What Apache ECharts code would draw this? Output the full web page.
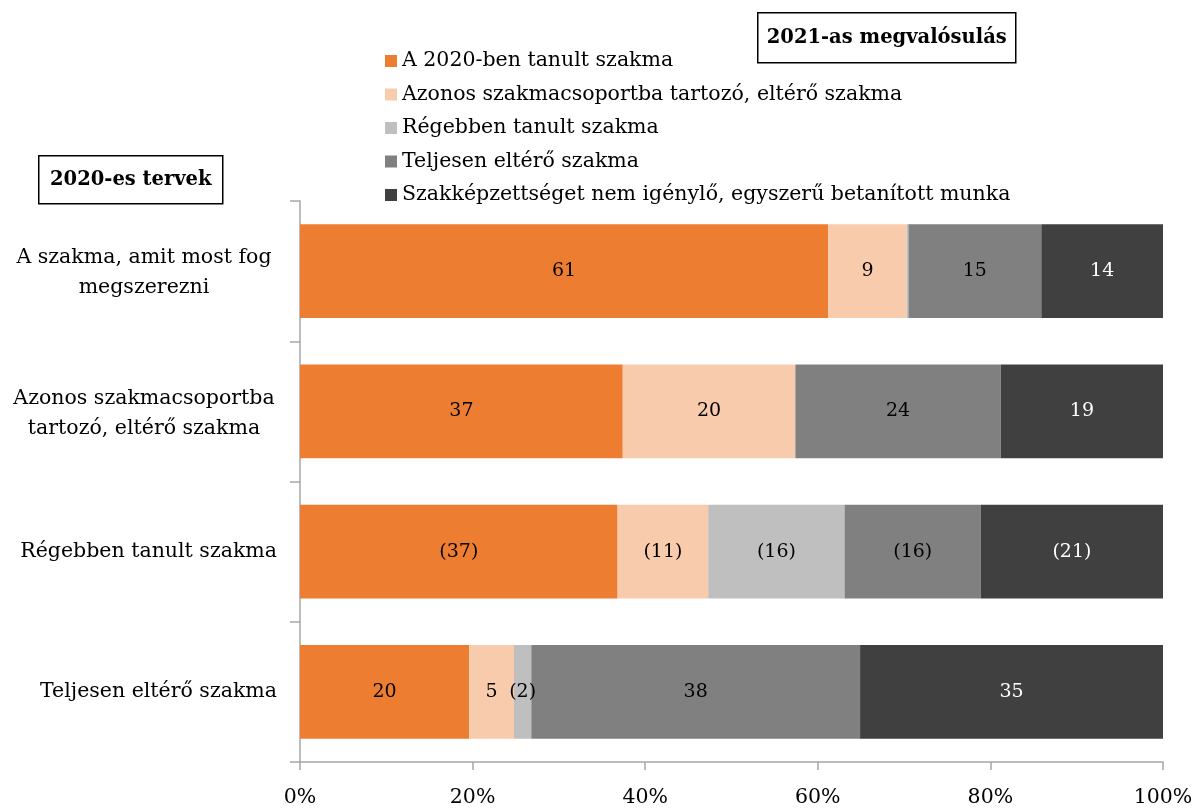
<!DOCTYPE html>
<html>
<head>
<meta charset="utf-8">
<script src="https://cdn.jsdelivr.net/npm/echarts@6/dist/echarts.min.js"></script>
<style>
  html, body { margin: 0; padding: 0; background: #fff; }
  #chart { width: 1193px; height: 808px; }
</style>
</head>
<body>
<div id="chart"></div>
<script>
// 2020-as tervek (sorok)
const categories = [
  "A szakma, amit most fog\nmegszerezni",
  "Azonos szakmacsoportba\ntartozó, eltérő szakma",
  "Régebben tanult szakma",
  "Teljesen eltérő szakma"
];
// 2021-es megvalósulás (sorozatok)
const seriesNames = [
  "A 2020-ben tanult szakma",
  "Azonos szakmacsoportba tartozó, eltérő szakma",
  "Régebben tanult szakma",
  "Teljesen eltérő szakma",
  "Szakképzettséget nem igénylő, egyszerű betanított munka"
];
const tanultSzakma = [61.2, 37.4, 36.8, 19.6];
const azonosCsoport = [9.1, 20.0, 10.5, 5.2];
const regebbenTanult = [0.2, 0, 15.8, 2.0];
const teljesenElterö = [15.4, 23.8, 15.8, 38.1];
const betanitott = [14.1, 18.8, 21.1, 35.1];
// zárójelben közölt értékek (sor indexek sorozatonként)
const inBrackets = [[2], [2], [2, 3], [2], [2]];
const xTicks = [0, 20, 40, 60, 80, 100];

const colors = ["#ED7D31", "#F8CBAD", "#BFBFBF", "#808080", "#404040"];
const labelColors = ["#000", "#000", "#000", "#000", "#fff"];
const values = [tanultSzakma, azonosCsoport, regebbenTanult, teljesenElterö, betanitott];
const font = "DejaVu Serif";

let myChart = echarts.init(document.getElementById("chart"));

let series = seriesNames.map((name, i) => ({
  name: name,
  type: "bar",
  stack: "total",
  barWidth: "67%",
  data: values[i],
  itemStyle: { color: colors[i] },
  label: {
    show: true,
    position: "inside",
    fontFamily: font,
    fontSize: 19,
    color: labelColors[i],
    formatter(p) {
      if (p.value < 1) return "";
      let v = Math.round(p.value);
      return inBrackets[i].indexOf(p.dataIndex) >= 0 ? "(" + v + ")" : "" + v;
    }
  }
}));

let option = {
  animation: false,
  textStyle: { fontFamily: font },
  grid: { left: 300, right: 30, top: 201, bottom: 46, outerBoundsMode: "none" },
  legend: {
    orient: "vertical",
    left: 380,
    top: 45,
    itemWidth: 12,
    itemHeight: 12,
    itemGap: 11.5,
    icon: "rect",
    textStyle: { fontFamily: font, fontSize: 20.5, lineHeight: 22, color: "#000" },
    data: seriesNames
  },
  xAxis: {
    type: "value",
    min: xTicks[0],
    max: xTicks[xTicks.length - 1],
    interval: 20,
    axisLine: { show: true, lineStyle: { color: "#A6A6A6", width: 1.5 } },
    axisTick: { show: true, length: 8, lineStyle: { color: "#A6A6A6", width: 1.5 } },
    splitLine: { show: false },
    axisLabel: {
      margin: 25,
      fontFamily: font,
      fontSize: 20.5,
      color: "#000",
      formatter: "{value}%"
    }
  },
  yAxis: {
    type: "category",
    inverse: true,
    data: categories,
    axisLine: { show: true, lineStyle: { color: "#A6A6A6", width: 1.5 } },
    axisTick: { show: true, length: 10, lineStyle: { color: "#A6A6A6", width: 1.5 } },
    axisLabel: {
      margin: 23,
      fontFamily: font,
      fontSize: 20.5,
      color: "#000",
      formatter(v) {
        if (v.indexOf("\n") < 0) return v;
        return v.split("\n").map(s => "{c|" + s + "}").join("\n");
      },
      rich: {
        c: { width: 266, align: "center", fontFamily: font, fontSize: 20.5, lineHeight: 30, color: "#000", padding: [4, 0, 0, 0] }
      }
    }
  },
  graphic: [
    {
      type: "group",
      left: 757,
      top: 12,
      children: [
        { type: "rect", shape: { x: 0, y: 0, width: 258, height: 50 }, style: { fill: "#fff", stroke: "#000", lineWidth: 1.5 } },
        { type: "text", x: 129, y: 25, style: { text: "2021-as megvalósulás", font: "bold 19.5px " + font, fill: "#000", align: "center", verticalAlign: "middle" } }
      ]
    },
    {
      type: "group",
      left: 38,
      top: 155,
      children: [
        { type: "rect", shape: { x: 0, y: 0, width: 184, height: 48 }, style: { fill: "#fff", stroke: "#000", lineWidth: 1.5 } },
        { type: "text", x: 92, y: 24, style: { text: "2020-es tervek", font: "bold 19.5px " + font, fill: "#000", align: "center", verticalAlign: "middle" } }
      ]
    }
  ],
  series: series
};

myChart.setOption(option);
</script>
</body>
</html>
